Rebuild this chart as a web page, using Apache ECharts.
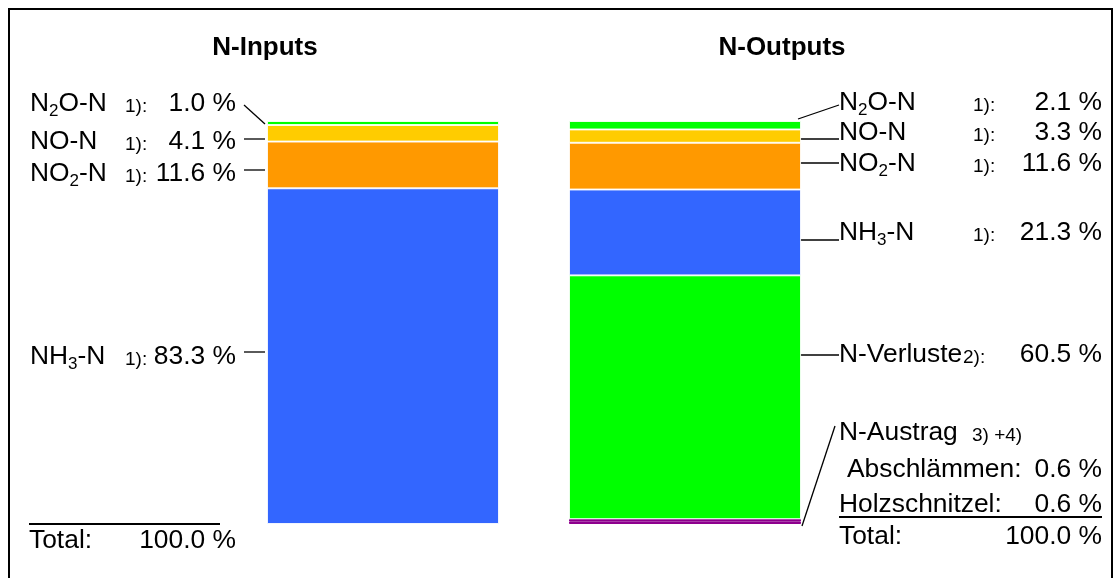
<!DOCTYPE html>
<html>
<head>
<meta charset="utf-8">
<script src="https://cdn.jsdelivr.net/npm/echarts@6/dist/echarts.min.js"></script>
<style>
html,body{margin:0;padding:0;background:#fff;}
#main{width:1115px;height:578px;}
</style>
</head>
<body>
<div id="main"></div>
<script>
// ---- data ----
const barCategories = ['N-Inputs', 'N-Outputs'];
const segmentNames = ['Holzschnitzel', 'Abschlämmen', 'N-Verluste', 'NH₃-N', 'NO₂-N', 'NO-N', 'N₂O-N'];
const inputValues  = [null, null, null, 83.3, 11.6, 4.1, 1.0];
const outputValues = [0.6, 0.6, 60.5, 21.3, 11.6, 3.3, 2.1];
const inputNotes  = [null, null, null, '1):', '1):', '1):', '1):'];
const outputNotes = [null, null, '2):', '1):', '1):', '1):', '1):'];
const austragLabel = 'N-Austrag';
const austragNote = '3) +4)';
const totalLabel = 'Total:';
const totalInputs = 100.0;
const totalOutputs = 100.0;

// ---- styles ----
const segmentColors = ['#8E008E', '#8E008E', '#00FF00', '#3366FF', '#FF9900', '#FFCC00', '#00FF00'];
const FONT = '"Liberation Sans", Arial, sans-serif';
const MAIN_SIZE = 26.4;

const chart = echarts.init(document.getElementById('main'), null, {renderer: 'canvas'});

const series = segmentNames.map((name, i) => ({
  name: name,
  type: 'bar',
  stack: 'total',
  barWidth: 232,
  data: [inputValues[i] == null ? '-' : inputValues[i], outputValues[i] == null ? '-' : outputValues[i]],
  itemStyle: {
    color: segmentColors[i],
    borderColor: i < 2 ? segmentColors[i] : '#ffffff',
    borderWidth: i < 2 ? 1 : 0.9
  },
  emphasis: {disabled: true},
  animation: false
}));

chart.setOption({
  animation: false,
  backgroundColor: '#ffffff',
  grid: {left: 232, right: 279, top: 121, bottom: 54},
  xAxis: {type: 'category', data: barCategories, show: false},
  yAxis: {type: 'value', min: 0, max: 100, show: false},
  series: series
});

// ---- annotations computed through the chart scales ----
const BAR_HALF = 116;
function pt(cat, v) { return chart.convertToPixel({gridIndex: 0}, [cat, v]); }
function cum(values) {
  const lo = [], hi = []; let s = 0;
  values.forEach((v, i) => { lo[i] = s; if (v != null) s += v; hi[i] = s; });
  return {lo, hi};
}
const cIn = cum(inputValues), cOut = cum(outputValues);

function richName(name) {
  return name.replace(/[₂₃]/g, m => '{s|' + (m === '₂' ? '2' : '3') + '}')
             .replace(/(^|\})([^{}]+)(?=\{|$)/g, (a, p, t) => p + '{n|' + t + '}');
}
const richStyles = {
  n: {fontSize: MAIN_SIZE, fontFamily: FONT, fill: '#000'},
  s: {fontSize: 17, fontFamily: FONT, fill: '#000', padding: [14, 0, 0, 0]}
};
function txt(x, y, text, opts) {
  opts = opts || {};
  return {
    type: 'text', x: x, y: y, silent: true,
    style: Object.assign({
      text: text, fill: '#000',
      font: (opts.bold ? 'bold ' : '') + (opts.size || MAIN_SIZE) + 'px ' + FONT,
      textAlign: opts.align || 'left', textVerticalAlign: 'middle'
    }, opts.rich ? {rich: richStyles} : {})
  };
}
function line(x1, y1, x2, y2, w) {
  return {type: 'line', silent: true, shape: {x1, y1, x2, y2}, style: {stroke: '#000', lineWidth: w || 1.3}};
}

const g = [];
// frame
g.push({type: 'rect', silent: true, shape: {x: 9, y: 9, width: 1103, height: 590}, style: {fill: null, stroke: '#000', lineWidth: 2}});
// titles
g.push(txt(265, 48, barCategories[0], {bold: true, size: 26, align: 'center'}));
g.push(txt(782, 48, barCategories[1], {bold: true, size: 26, align: 'center'}));

// left side (inputs)
const inLeft = pt(0, 0)[0] - BAR_HALF;
const leftRows = {6: 104, 5: 142, 4: 174, 3: 357};
const leftLineY = {5: 139, 4: 170, 3: 352};
[6, 5, 4, 3].forEach(i => {
  const y = leftRows[i];
  g.push(txt(30, y, richName(segmentNames[i]), {rich: true}));
  g.push(txt(125, y + 3, inputNotes[i], {size: 19}));
  g.push(txt(236, y, inputValues[i].toFixed(1) + ' %', {align: 'right'}));
  if (i === 6) {
    const yy = pt(0, (cIn.lo[i] + cIn.hi[i]) / 2)[1];
    g.push(line(244, 105, inLeft - 2, yy + 1));
  } else {
    g.push(line(244, leftLineY[i], inLeft - 2, leftLineY[i]));
  }
});
g.push(line(29, 524, 220, 524, 2));
g.push(txt(29, 541, totalLabel));
g.push(txt(236, 541, totalInputs.toFixed(1) + ' %', {align: 'right'}));

// right side (outputs)
const outRight = pt(1, 0)[0] + BAR_HALF;
const rightRows = {6: 103, 5: 133, 4: 164, 3: 233, 2: 355};
const rightLineY = {5: 139, 4: 163, 3: 240, 2: 355};
[6, 5, 4, 3, 2].forEach(i => {
  const y = rightRows[i];
  g.push(txt(839, y, richName(segmentNames[i]), {rich: true}));
  g.push(txt(i === 2 ? 963 : 973, y + 3, outputNotes[i], {size: 19}));
  g.push(txt(1102, y, outputValues[i].toFixed(1) + ' %', {align: 'right'}));
  if (i === 6) {
    const yy = pt(1, cOut.hi[i])[1];
    g.push(line(outRight - 3, yy - 2, 839, 105));
  } else {
    g.push(line(outRight - 3, rightLineY[i], 839, rightLineY[i]));
  }
});
// N-Austrag group
const yAus = pt(1, cOut.lo[0])[1];
g.push(line(outRight + 1, yAus + 2, 835, 426));
g.push(txt(839, 433, austragLabel));
g.push(txt(972, 436, austragNote, {size: 19}));
g.push(txt(847, 470, segmentNames[1] + ':'));
g.push(txt(1102, 470, outputValues[1].toFixed(1) + ' %', {align: 'right'}));
g.push(txt(839, 505, segmentNames[0] + ':'));
g.push(txt(1102, 505, outputValues[0].toFixed(1) + ' %', {align: 'right'}));
g.push(line(839, 517, 1102, 517, 2));
g.push(txt(839, 537, totalLabel));
g.push(txt(1102, 537, totalOutputs.toFixed(1) + ' %', {align: 'right'}));

chart.setOption({graphic: {elements: g}});
</script>
</body>
</html>
